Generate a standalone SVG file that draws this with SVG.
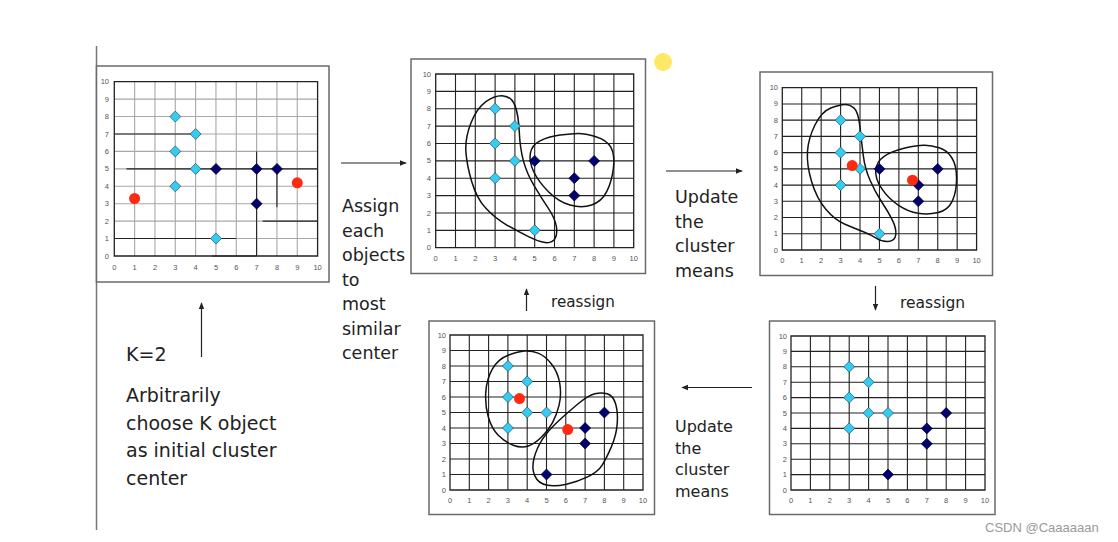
<svg xmlns="http://www.w3.org/2000/svg" xmlns:xlink="http://www.w3.org/1999/xlink" width="1118" height="542" viewBox="0 0 1118 542">
<style>
.frame{fill:#fff;stroke:#6a6a6a;stroke-width:1.5}
.grid{fill:none;stroke:#222;stroke-width:1.1}
.grid1{fill:none;stroke:#a8a8a8;stroke-width:1.1}
.dk{fill:none;stroke:#222;stroke-width:1.1}
.border{fill:none;stroke:#222;stroke-width:1.3}
.blob{fill:none;stroke:#111;stroke-width:1.5;stroke-linejoin:round}
.tk{font-family:"Liberation Sans",Arial,sans-serif;font-size:7.5px;fill:#555}
.ty{text-anchor:end}
.tx{text-anchor:middle}
.lbl{font-family:"DejaVu Sans",Verdana,sans-serif;fill:#222}
.c{fill:#33ccf5;stroke:#2a4a55;stroke-width:0.7}
.n{fill:#00006e;stroke:#000033;stroke-width:0.7}
.r{fill:#ff2a10}
.arr{stroke:#222;stroke-width:1.2;fill:none}
</style>
<defs>
<path id="d" d="M0,-5.5L5.5,0L0,5.5L-5.5,0Z"/>
<path id="g" vector-effect="non-scaling-stroke" d="M1 0V10M2 0V10M3 0V10M4 0V10M5 0V10M6 0V10M7 0V10M8 0V10M9 0V10M0 1H10M0 2H10M0 3H10M0 4H10M0 5H10M0 6H10M0 7H10M0 8H10M0 9H10"/>
<marker id="ah" viewBox="0 0 10 10" refX="9" refY="5" markerWidth="7" markerHeight="7" markerUnits="userSpaceOnUse" orient="auto">
<path d="M0,1L10,5L0,9Z" fill="#222"/>
</marker>
</defs>

<rect width="1118" height="542" fill="#fff"/>
<line x1="96.5" y1="46" x2="96.5" y2="530" stroke="#777" stroke-width="1.5"/>

<g id="panel1">
<rect class="frame" x="96.5" y="66" width="232.5" height="216"/>
<g transform="translate(114.3,256) scale(20.33,-17.43)">
<use href="#g" class="grid1"/>
<path class="dk" vector-effect="non-scaling-stroke" d="M0 7H4M0.6 5H10M0 1H6M7.3 2H10M7 0V6M8 2.8V5M4.8 0H7"/>
<rect class="border" x="0" y="0" width="10" height="10" vector-effect="non-scaling-stroke"/>
</g>
<g class="tk ty">
<text x="109" y="258.5">0</text><text x="109" y="241.1">1</text><text x="109" y="223.6">2</text><text x="109" y="206.2">3</text><text x="109" y="188.8">4</text><text x="109" y="171.4">5</text><text x="109" y="153.9">6</text><text x="109" y="136.5">7</text><text x="109" y="119.1">8</text><text x="109" y="101.6">9</text><text x="109" y="84.2">10</text>
</g>
<g class="tk tx">
<text x="114.3" y="270">0</text><text x="134.6" y="270">1</text><text x="155" y="270">2</text><text x="175.3" y="270">3</text><text x="195.6" y="270">4</text><text x="216" y="270">5</text><text x="236.3" y="270">6</text><text x="256.6" y="270">7</text><text x="277" y="270">8</text><text x="297.3" y="270">9</text><text x="317.6" y="270">10</text>
</g>
<use href="#d" class="c" x="175.3" y="116.6"/><use href="#d" class="c" x="195.6" y="134"/><use href="#d" class="c" x="175.3" y="151.4"/><use href="#d" class="c" x="195.6" y="168.9"/><use href="#d" class="c" x="175.3" y="186.3"/><use href="#d" class="c" x="216" y="238.6"/>
<use href="#d" class="n" x="216" y="168.9"/><use href="#d" class="n" x="256.6" y="168.9"/><use href="#d" class="n" x="277" y="168.9"/><use href="#d" class="n" x="256.6" y="203.7"/>
<circle class="r" cx="134.6" cy="198.5" r="5.5"/><circle class="r" cx="297.3" cy="182.8" r="5.5"/>
</g>

<g id="panel2">
<rect class="frame" x="411" y="59" width="234.5" height="214.5"/>
<g transform="translate(435.7,247.7) scale(19.8,-17.37)">
<use href="#g" class="grid"/>
<rect class="border" x="0" y="0" width="10" height="10" vector-effect="non-scaling-stroke"/>
<path class="blob" vector-effect="non-scaling-stroke" d="M2.535,8.405Q2.07,8.02 1.775,7.16Q1.48,6.30 1.525,5.53Q1.57,4.76 1.82,3.80Q2.07,2.84 2.535,2.265Q3.0,1.69 3.59,1.305Q4.18,0.92 4.685,0.635Q5.19,0.35 5.525,0.30Q5.86,0.25 6.01,0.49Q6.16,0.73 6.095,1.21Q6.03,1.69 5.69,2.265Q5.35,2.84 4.975,3.56Q4.60,4.28 4.43,5.0Q4.26,5.72 4.22,6.68Q4.18,7.64 4.01,8.165Q3.84,8.69 3.42,8.74Q3.0,8.79 2.535,8.405Z"/>
<path class="blob" vector-effect="non-scaling-stroke" d="M6.28,6.485Q5.69,6.39 5.27,6.15Q4.85,5.91 4.78,5.43Q4.71,4.95 4.95,4.375Q5.19,3.80 5.695,3.225Q6.20,2.65 6.785,2.455Q7.37,2.26 7.875,2.455Q8.38,2.65 8.635,3.225Q8.89,3.80 8.975,4.57Q9.06,5.34 8.85,5.77Q8.64,6.20 8.09,6.39Q7.54,6.58 7.205,6.58Q6.87,6.58 6.28,6.485Z"/>
</g>
<g class="tk ty">
<text x="431" y="250.2">0</text><text x="431" y="232.8">1</text><text x="431" y="215.5">2</text><text x="431" y="198.1">3</text><text x="431" y="180.7">4</text><text x="431" y="163.4">5</text><text x="431" y="146">6</text><text x="431" y="128.6">7</text><text x="431" y="111.2">8</text><text x="431" y="93.9">9</text><text x="431" y="76.5">10</text>
</g>
<g class="tk tx">
<text x="435.7" y="261">0</text><text x="455.5" y="261">1</text><text x="475.3" y="261">2</text><text x="495.1" y="261">3</text><text x="514.9" y="261">4</text><text x="534.7" y="261">5</text><text x="554.5" y="261">6</text><text x="574.3" y="261">7</text><text x="594.1" y="261">8</text><text x="613.9" y="261">9</text><text x="633.7" y="261">10</text>
</g>
<use href="#d" class="c" x="495.1" y="108.7"/><use href="#d" class="c" x="514.9" y="126.1"/><use href="#d" class="c" x="495.1" y="143.5"/><use href="#d" class="c" x="514.9" y="160.9"/><use href="#d" class="c" x="495.1" y="178.2"/><use href="#d" class="c" x="534.7" y="230.3"/>
<use href="#d" class="n" x="534.7" y="160.9"/><use href="#d" class="n" x="574.3" y="178.2"/><use href="#d" class="n" x="594.1" y="160.9"/><use href="#d" class="n" x="574.3" y="195.6"/>
</g>

<g id="panel3">
<rect class="frame" x="760" y="72" width="232.5" height="203.5"/>
<g transform="translate(782.3,250) scale(19.43,-16.23)">
<use href="#g" class="grid"/>
<rect class="border" x="0" y="0" width="10" height="10" vector-effect="non-scaling-stroke"/>
<path class="blob" vector-effect="non-scaling-stroke" d="M2.495,8.745Q2.02,8.52 1.68,7.70Q1.34,6.88 1.295,6.06Q1.25,5.24 1.51,4.21Q1.77,3.18 2.24,2.515Q2.71,1.85 3.225,1.59Q3.74,1.33 4.17,1.125Q4.60,0.92 4.855,0.715Q5.11,0.51 5.455,0.53Q5.80,0.55 5.84,0.94Q5.88,1.33 5.665,1.845Q5.45,2.36 5.11,2.975Q4.77,3.59 4.51,4.31Q4.25,5.03 4.165,5.85Q4.08,6.67 3.995,7.595Q3.91,8.52 3.695,8.745Q3.48,8.97 3.225,8.97Q2.97,8.97 2.495,8.745Z"/>
<path class="blob" vector-effect="non-scaling-stroke" d="M6.315,6.285Q5.63,6.10 5.24,5.77Q4.85,5.44 4.81,4.925Q4.77,4.41 5.11,3.795Q5.45,3.18 5.965,2.77Q6.48,2.36 6.995,2.26Q7.51,2.16 8.025,2.31Q8.54,2.46 8.755,3.025Q8.97,3.59 8.97,4.415Q8.97,5.24 8.715,5.70Q8.46,6.16 8.07,6.295Q7.68,6.43 7.34,6.45Q7.0,6.47 6.315,6.285Z"/>
</g>
<g class="tk ty">
<text x="778" y="252.5">0</text><text x="778" y="236.3">1</text><text x="778" y="220">2</text><text x="778" y="203.8">3</text><text x="778" y="187.6">4</text><text x="778" y="171.4">5</text><text x="778" y="155.1">6</text><text x="778" y="138.9">7</text><text x="778" y="122.7">8</text><text x="778" y="106.4">9</text><text x="778" y="90.2">10</text>
</g>
<g class="tk tx">
<text x="782.3" y="263">0</text><text x="801.7" y="263">1</text><text x="821.2" y="263">2</text><text x="840.6" y="263">3</text><text x="860" y="263">4</text><text x="879.5" y="263">5</text><text x="898.9" y="263">6</text><text x="918.3" y="263">7</text><text x="937.7" y="263">8</text><text x="957.2" y="263">9</text><text x="976.6" y="263">10</text>
</g>
<use href="#d" class="c" x="840.6" y="120.2"/><use href="#d" class="c" x="860" y="136.4"/><use href="#d" class="c" x="840.6" y="152.6"/><use href="#d" class="c" x="860" y="168.9"/><use href="#d" class="c" x="840.6" y="185.1"/><use href="#d" class="c" x="879.5" y="233.8"/>
<use href="#d" class="n" x="879.5" y="168.9"/><use href="#d" class="n" x="918.3" y="185.1"/><use href="#d" class="n" x="937.7" y="168.9"/><use href="#d" class="n" x="918.3" y="201.3"/>
<circle class="r" cx="852.2" cy="165.6" r="5.5"/><circle class="r" cx="912.5" cy="180.2" r="5.5"/>
</g>

<g id="panel4">
<rect class="frame" x="429" y="321" width="225.5" height="193.5"/>
<g transform="translate(450,490) scale(19.3,-15.5)">
<use href="#g" class="grid"/>
<rect class="border" x="0" y="0" width="10" height="10" vector-effect="non-scaling-stroke"/>
<path class="blob" vector-effect="non-scaling-stroke" d="M3.015,8.695Q2.5,8.46 2.2,7.815Q1.90,7.17 1.855,6.315Q1.81,5.46 1.985,4.71Q2.16,3.96 2.5,3.53Q2.84,3.10 3.275,2.89Q3.71,2.68 4.055,2.84Q4.40,3.00 4.745,3.425Q5.09,3.85 5.305,4.335Q5.52,4.82 5.65,5.46Q5.78,6.10 5.69,6.85Q5.60,7.60 5.255,8.135Q4.91,8.67 4.565,8.83Q4.22,8.99 3.875,8.96Q3.53,8.93 3.015,8.695Z"/>
<path class="blob" vector-effect="non-scaling-stroke" d="M7.5,6.21Q7.16,6.10 6.64,5.565Q6.12,5.03 5.605,4.44Q5.09,3.85 4.785,3.265Q4.48,2.68 4.35,2.035Q4.22,1.39 4.395,0.91Q4.57,0.43 5.0,0.32Q5.43,0.21 6.035,0.375Q6.64,0.54 7.155,0.86Q7.67,1.18 7.885,1.605Q8.10,2.03 8.36,2.78Q8.62,3.53 8.665,4.28Q8.71,5.03 8.58,5.565Q8.45,6.10 8.145,6.21Q7.84,6.32 7.5,6.21Z"/>
</g>
<g class="tk ty">
<text x="446" y="492.5">0</text><text x="446" y="477">1</text><text x="446" y="461.5">2</text><text x="446" y="446">3</text><text x="446" y="430.5">4</text><text x="446" y="415">5</text><text x="446" y="399.5">6</text><text x="446" y="384">7</text><text x="446" y="368.5">8</text><text x="446" y="353">9</text><text x="446" y="337.5">10</text>
</g>
<g class="tk tx">
<text x="450" y="503">0</text><text x="469.3" y="503">1</text><text x="488.6" y="503">2</text><text x="507.9" y="503">3</text><text x="527.2" y="503">4</text><text x="546.5" y="503">5</text><text x="565.8" y="503">6</text><text x="585.1" y="503">7</text><text x="604.4" y="503">8</text><text x="623.7" y="503">9</text><text x="643" y="503">10</text>
</g>
<use href="#d" class="c" x="507.9" y="366"/><use href="#d" class="c" x="527.2" y="381.5"/><use href="#d" class="c" x="507.9" y="397"/><use href="#d" class="c" x="527.2" y="412.5"/><use href="#d" class="c" x="546.5" y="412.5"/><use href="#d" class="c" x="507.9" y="428"/>
<use href="#d" class="n" x="604.4" y="412.5"/><use href="#d" class="n" x="585.1" y="428"/><use href="#d" class="n" x="585.1" y="443.5"/><use href="#d" class="n" x="546.5" y="474.5"/>
<circle class="r" cx="519.5" cy="398.6" r="5.5"/><circle class="r" cx="567.7" cy="429.6" r="5.5"/>
</g>

<g id="panel5">
<rect class="frame" x="769.5" y="321" width="225.5" height="193.5"/>
<g transform="translate(791,490) scale(19.4,-15.4)">
<use href="#g" class="grid"/>
<rect class="border" x="0" y="0" width="10" height="10" vector-effect="non-scaling-stroke"/>
</g>
<g class="tk ty">
<text x="787" y="492.5">0</text><text x="787" y="477.1">1</text><text x="787" y="461.7">2</text><text x="787" y="446.3">3</text><text x="787" y="430.9">4</text><text x="787" y="415.5">5</text><text x="787" y="400.1">6</text><text x="787" y="384.7">7</text><text x="787" y="369.3">8</text><text x="787" y="353.9">9</text><text x="787" y="338.5">10</text>
</g>
<g class="tk tx">
<text x="791" y="503">0</text><text x="810.4" y="503">1</text><text x="829.8" y="503">2</text><text x="849.2" y="503">3</text><text x="868.6" y="503">4</text><text x="888" y="503">5</text><text x="907.4" y="503">6</text><text x="926.8" y="503">7</text><text x="946.2" y="503">8</text><text x="965.6" y="503">9</text><text x="985" y="503">10</text>
</g>
<use href="#d" class="c" x="849.2" y="366.8"/><use href="#d" class="c" x="868.6" y="382.2"/><use href="#d" class="c" x="849.2" y="397.6"/><use href="#d" class="c" x="868.6" y="413"/><use href="#d" class="c" x="888" y="413"/><use href="#d" class="c" x="849.2" y="428.4"/>
<use href="#d" class="n" x="946.2" y="413"/><use href="#d" class="n" x="926.8" y="428.4"/><use href="#d" class="n" x="926.8" y="443.8"/><use href="#d" class="n" x="888" y="474.6"/>
</g>

<g id="connectors">
<line class="arr" x1="341" y1="163" x2="406" y2="163" marker-end="url(#ah)"/>
<line class="arr" x1="666" y1="171" x2="742" y2="171" marker-end="url(#ah)"/>
<line class="arr" x1="752" y1="387.5" x2="682" y2="387.5" marker-end="url(#ah)"/>
<line class="arr" x1="201.5" y1="357" x2="201.5" y2="303" marker-end="url(#ah)"/>
<line class="arr" x1="526.5" y1="311" x2="526.5" y2="289" marker-end="url(#ah)"/>
<line class="arr" x1="875.5" y1="286" x2="875.5" y2="310" marker-end="url(#ah)"/>
</g>

<g id="label-k" class="lbl" font-size="19">
<text x="126" y="361">K=2</text>
<text x="126" y="402">Arbitrarily</text>
<text x="126" y="430">choose K object</text>
<text x="126" y="457">as initial cluster</text>
<text x="126" y="485">center</text>
</g>
<g id="label-assign" class="lbl" font-size="17.5">
<text x="342" y="212">Assign</text>
<text x="342" y="236.5">each</text>
<text x="342" y="261">objects</text>
<text x="342" y="285.5">to</text>
<text x="342" y="310">most</text>
<text x="342" y="334.5">similar</text>
<text x="342" y="359">center</text>
</g>
<g id="label-update1" class="lbl" font-size="17.5">
<text x="675" y="203">Update</text>
<text x="675" y="227.5">the</text>
<text x="675" y="252">cluster</text>
<text x="675" y="276.5">means</text>
</g>
<g id="label-update2" class="lbl" font-size="16">
<text x="675" y="432">Update</text>
<text x="675" y="453.5">the</text>
<text x="675" y="475">cluster</text>
<text x="675" y="497">means</text>
</g>
<text class="lbl" font-size="15.2" x="551" y="307">reassign</text>
<text class="lbl" font-size="15.5" x="900" y="308">reassign</text>

<circle cx="663" cy="62" r="9" fill="#ffe866"/>
<text x="985" y="532" font-family="'Liberation Sans',Arial,sans-serif" font-size="13" fill="#9a9a9a">CSDN @Caaaaaan</text>
</svg>
